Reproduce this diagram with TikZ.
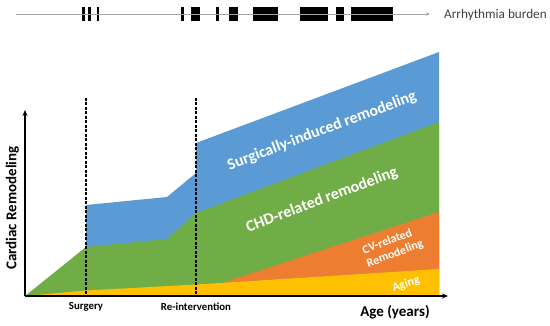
\documentclass[tikz,border=0pt]{standalone}
\usepackage{fontspec}
\setmainfont{Carlito}
\usetikzlibrary{arrows.meta}
\definecolor{cblue}{HTML}{5B9BD5}
\definecolor{cgreen}{HTML}{70AD47}
\definecolor{corange}{HTML}{ED7D31}
\definecolor{cyellow}{HTML}{FFC000}
\definecolor{cline}{HTML}{A6A6A6}
\definecolor{ctext}{HTML}{404040}
\tikzset{
  bar/.style={fill=black, draw=none},
  burden/.style={draw=cline, line width=0.9pt, -{Stealth[length=4pt,width=3.5pt]}},
  axis/.style={draw=black, line width=1.5pt, -{Stealth[length=6pt,width=5pt]}},
  event/.style={draw=black, line width=1.3pt, dash pattern=on 3pt off 1.5pt},
  bandlabel/.style={text=white, font=\bfseries\fontsize{16}{18}\selectfont, inner sep=0pt},
  smalllabel/.style={text=white, font=\bfseries\fontsize{12}{13}\selectfont, inner sep=0pt},
  ticklabel/.style={text=black, font=\bfseries\fontsize{10.8}{12}\selectfont, inner sep=0pt},
  axislabel/.style={text=black, font=\bfseries\fontsize{15}{17}\selectfont, inner sep=0pt}
}
\begin{document}
\begin{tikzpicture}[x=1pt,y=-1pt]
\useasboundingbox (0,0) rectangle (550,325);
% arrhythmia burden bars
\foreach \a/\b in {82.3/85,88.3/91,96.7/99.3,181.3/184.3,190.7/200.3,215.7/219,229/238.3,253.3/278.3,300/327.7,335.7/344.3,351/393.3}
  \fill[bar] (\a,6.7) rectangle (\b,20.7);
\coordinate (bstart) at (16,14);
\coordinate (bend) at (430,14);
\draw[burden] (bstart) -- (bend);
\node[anchor=west, inner sep=0pt, text=ctext, font=\fontsize{13.2}{15}\selectfont] (burdenlab) at (444,14.5) {Arrhythmia burden};
% bands
\fill[cblue] (86,205) -- (167,197) -- (196,173) -- (196,143) -- (439,52) -- (439,296) -- (86,296) -- cycle;
\fill[cgreen] (25,296) -- (86,247) -- (167,239) -- (196,213) -- (439,122) -- (439,296) -- cycle;
\fill[corange] (223,282.6) -- (439,212) -- (439,269.5) -- cycle;
\fill[cyellow] (25,296) -- (86,290.5) -- (196,284.5) -- (439,269) -- (439,296) -- cycle;
% event lines
\coordinate (s1) at (86,97.7);
\coordinate (s2) at (86,296);
\coordinate (r1) at (196,97.7);
\coordinate (r2) at (196,296);
\draw[event] (s1) -- (s2);
\draw[event] (r1) -- (r2);
% axes
\coordinate (origin) at (25,296);
\coordinate (ytip) at (25,110);
\coordinate (xtip) at (448,296);
\draw[axis] (origin) -- (ytip);
\draw[axis] (origin) -- (xtip);
% labels
\node[bandlabel, rotate=20.5] (surglab) at (322,131) {Surgically-induced remodeling};
\node[bandlabel, rotate=20.5] (chdlab) at (322,200) {CHD-related remodeling};
\node[smalllabel, rotate=20.5] (cvlab) at (387,241) {CV-related};
\node[smalllabel, rotate=20.5] (remlab) at (395,254) {Remodeling};
\node[smalllabel, rotate=17] (aginglab) at (406,284) {Aging};
\node[ticklabel] (surgery) at (86,307) {Surgery};
\node[ticklabel] (reint) at (196,307) {Re-intervention};
\node[axislabel] (agelab) at (395,312) {Age (years)};
\node[axislabel, rotate=90] (cardlab) at (12.5,208) {Cardiac Remodeling};
\end{tikzpicture}
\end{document}
